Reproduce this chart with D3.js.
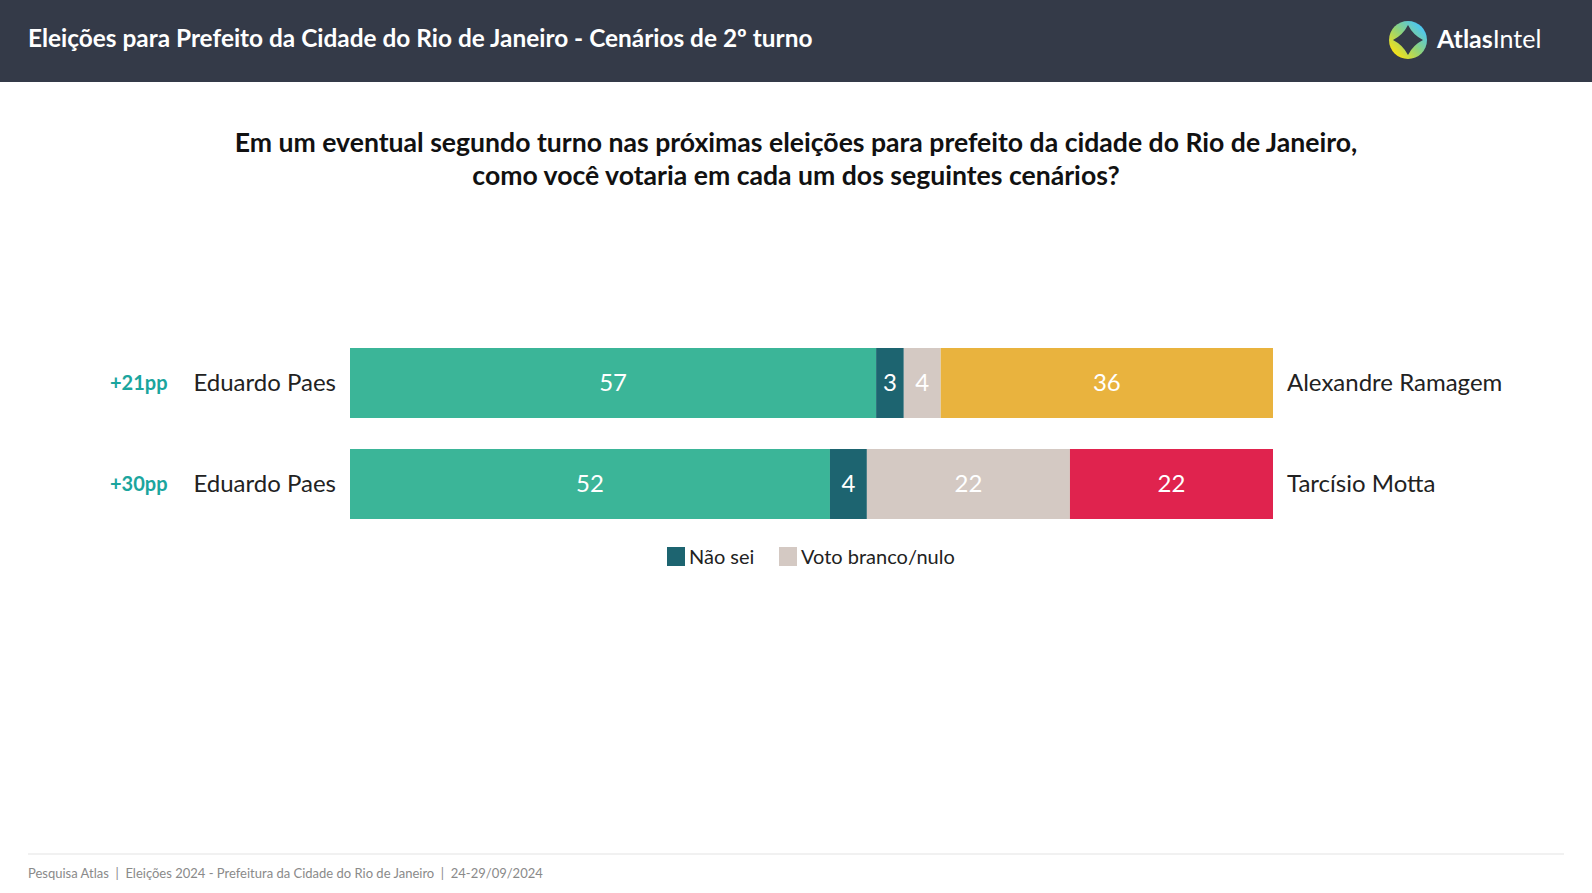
<!DOCTYPE html>
<html>
<head>
<meta charset="utf-8">
<script src="https://cdn.jsdelivr.net/npm/d3@7"></script>
<style>
  html, body { margin: 0; padding: 0; background: #fff; }
  svg { display: block; font-family: Lato, "Noto Sans", sans-serif; }
</style>
</head>
<body>
<div id="chart"></div>
<script>
var W = 1592, H = 893;

// data
var leftNames = ["Eduardo Paes", "Eduardo Paes"];
var rightNames = ["Alexandre Ramagem", "Tarcísio Motta"];
var margins = ["+21pp", "+30pp"];
var paesVals = [57, 52];
var naoSeiVals = [3, 4];
var brancoVals = [4, 22];
var rivalVals = [36, 22];
var rivalColors = ["#e9b33e", "#e0234e"];
var legendLabels = ["Não sei", "Voto branco/nulo"];

var svg = d3.select("#chart").append("svg")
    .attr("width", W)
    .attr("height", H);

// header
svg.append("rect")
    .attr("width", W).attr("height", 82)
    .attr("fill", "#343a48");

svg.append("text")
    .attr("x", 28).attr("y", 47)
    .attr("fill", "#fff")
    .attr("font-size", 24.4)
    .attr("font-weight", 700)
    .text("Eleições para Prefeito da Cidade do Rio de Janeiro - Cenários de 2º turno");

// logo
var defs = svg.append("defs");
var grad = defs.append("linearGradient")
    .attr("id", "logoGrad")
    .attr("x1", "15%").attr("y1", "85%")
    .attr("x2", "85%").attr("y2", "15%");
grad.append("stop").attr("offset", "0%").attr("stop-color", "#f4e11a");
grad.append("stop").attr("offset", "50%").attr("stop-color", "#8fd27a");
grad.append("stop").attr("offset", "100%").attr("stop-color", "#4cc6f2");

var logo = svg.append("g").attr("transform", "translate(1408,40)");
logo.append("circle").attr("r", 19).attr("fill", "url(#logoGrad)");
logo.append("path")
    .attr("fill", "#343a48")
    .attr("d", "M0,-15 Q5,-5 15,0 Q5,5 0,15 Q-5,5 -15,0 Q-5,-5 0,-15 Z");

var brand = svg.append("text")
    .attr("x", 1437).attr("y", 48)
    .attr("fill", "#fff")
    .attr("font-size", 25);
brand.append("tspan").attr("font-weight", 700).text("Atlas");
brand.append("tspan").attr("font-weight", 400).text("Intel");

// question
var q = svg.append("text")
    .attr("text-anchor", "middle")
    .attr("fill", "#111")
    .attr("font-size", 26.6)
    .attr("font-weight", 700);
q.append("tspan").attr("x", W / 2).attr("y", 152)
    .text("Em um eventual segundo turno nas próximas eleições para prefeito da cidade do Rio de Janeiro,");
q.append("tspan").attr("x", W / 2).attr("y", 185)
    .text("como você votaria em cada um dos seguintes cenários?");

// scales
var x = d3.scaleLinear().domain([0, 100]).range([350, 1273]);
var y = d3.scaleBand().domain(d3.range(paesVals.length))
    .range([348, 519]).paddingInner(0.307);

var rows = d3.range(paesVals.length).map(function (i) {
    var vals = [paesVals[i], naoSeiVals[i], brancoVals[i], rivalVals[i]];
    var colors = ["#3bb598", "#1d6470", "#d4c9c3", rivalColors[i]];
    var acc = 0;
    return vals.map(function (v, j) {
        var seg = { row: i, v: v, x0: acc, x1: acc + v, color: colors[j] };
        acc += v;
        return seg;
    });
});

var rowG = svg.selectAll(".row")
    .data(rows)
    .enter()
    .append("g")
    .attr("class", "row")
    .attr("transform", function (d, i) { return "translate(0," + y(i) + ")"; });

rowG.selectAll("rect")
    .data(function (d) { return d; })
    .enter()
    .append("rect")
    .attr("x", function (d) { return x(d.x0); })
    .attr("width", function (d) { return x(d.x1) - x(d.x0); })
    .attr("height", y.bandwidth())
    .attr("fill", function (d) { return d.color; });

rowG.selectAll(".val")
    .data(function (d) { return d; })
    .enter()
    .append("text")
    .attr("class", "val")
    .attr("x", function (d) { return (x(d.x0) + x(d.x1)) / 2; })
    .attr("y", y.bandwidth() / 2)
    .attr("dy", "0.35em")
    .attr("text-anchor", "middle")
    .attr("fill", "#fff")
    .attr("font-size", 24)
    .text(function (d) { return d.v; });

rowG.append("text")
    .attr("x", 336)
    .attr("y", y.bandwidth() / 2)
    .attr("dy", "0.35em")
    .attr("text-anchor", "end")
    .attr("fill", "#222")
    .attr("font-size", 24)
    .text(function (d, i) { return leftNames[i]; });

rowG.append("text")
    .attr("x", 110)
    .attr("y", y.bandwidth() / 2)
    .attr("dy", "0.35em")
    .attr("fill", "#1ba59e")
    .attr("font-size", 20)
    .attr("font-weight", 700)
    .text(function (d, i) { return margins[i]; });

rowG.append("text")
    .attr("x", 1287)
    .attr("y", y.bandwidth() / 2)
    .attr("dy", "0.35em")
    .attr("fill", "#222")
    .attr("font-size", 24)
    .text(function (d, i) { return rightNames[i]; });

// legend
var legendColors = ["#1d6470", "#d4c9c3"];
var legendX = [667, 779];
var leg = svg.selectAll(".leg")
    .data(legendLabels)
    .enter()
    .append("g")
    .attr("class", "leg")
    .attr("transform", function (d, i) { return "translate(" + legendX[i] + ",547)"; });
leg.append("rect")
    .attr("width", 18).attr("height", 19)
    .attr("fill", function (d, i) { return legendColors[i]; });
leg.append("text")
    .attr("x", 22).attr("y", 10)
    .attr("dy", "0.35em")
    .attr("fill", "#222")
    .attr("font-size", 20)
    .text(function (d) { return d; });

// footer
svg.append("line")
    .attr("x1", 28).attr("x2", 1564)
    .attr("y1", 854).attr("y2", 854)
    .attr("stroke", "#e3e3e3");

svg.append("text")
    .attr("x", 28).attr("y", 878)
    .attr("fill", "#8a8a8a")
    .attr("font-size", 13)
    .style("white-space", "pre")
    .text("Pesquisa Atlas  |  Eleições 2024 - Prefeitura da Cidade do Rio de Janeiro  |  24-29/09/2024");
</script>
</body>
</html>
